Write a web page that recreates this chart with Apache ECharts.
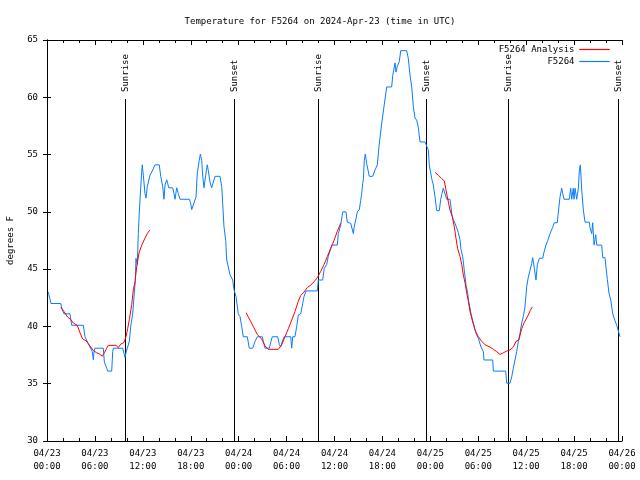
<!DOCTYPE html>
<html>
<head>
<meta charset="utf-8">
<script src="https://cdn.jsdelivr.net/npm/echarts@6/dist/echarts.min.js"></script>
<style>html,body{margin:0;padding:0;background:#fff}#c{width:640px;height:480px}</style>
</head>
<body>
<div id="c"></div>
<script>
// hours since 2024-04-23 00:00 UTC, temperature in degrees F
var obsHours = [0.16,0.5,1.72,1.88,2.13,2.88,3.09,4.55,4.76,5.17,5.38,5.67,5.80,5.89,6.01,7.05,7.18,7.48,7.60,8.10,8.23,8.30,9.48,9.64,9.77,9.89,10.06,10.31,10.48,10.73,10.93,11.06,11.14,11.31,11.43,11.56,11.73,11.86,11.93,12.06,12.27,12.40,12.56,12.90,13.24,13.52,14.06,14.24,14.49,14.65,14.78,14.99,15.11,15.24,15.74,15.90,16.03,16.24,16.44,16.65,17.82,17.99,18.12,18.32,18.66,18.82,19.07,19.20,19.37,19.50,19.66,19.87,20.07,20.20,20.41,20.62,20.82,21.04,21.66,21.88,22.00,22.16,22.38,22.50,22.70,22.92,23.25,23.42,23.67,23.95,24.17,24.38,24.58,25.08,25.33,25.76,26.05,26.33,26.96,27.09,27.30,27.84,28.05,28.21,28.89,29.09,29.26,29.51,29.71,30.52,30.64,30.77,31.05,31.27,31.47,31.77,32.02,32.18,32.43,33.85,33.97,34.52,34.72,35.02,35.22,35.65,36.35,36.48,36.78,37.03,37.44,37.60,38.03,38.36,38.44,38.69,38.86,39.11,39.28,39.41,39.53,39.61,39.73,39.86,40.03,40.36,40.78,41.07,41.36,41.57,41.91,42.20,42.54,43.16,43.29,43.58,43.70,43.86,44.11,44.29,45.04,45.24,45.46,45.67,45.87,46.08,46.29,46.49,46.71,47.33,47.75,47.87,48.17,48.37,48.59,48.80,49.12,49.30,49.46,49.62,49.84,50.05,50.46,50.55,50.71,50.88,51.09,51.30,51.50,51.72,51.84,52.05,52.25,52.47,52.68,52.81,53.10,53.38,53.72,54.01,54.35,54.64,54.72,55.81,55.89,57.44,57.56,57.98,58.19,58.39,58.60,58.81,59.02,59.23,59.44,59.64,59.85,60.07,60.27,60.48,60.69,60.82,61.02,61.23,61.40,61.65,62.07,62.24,62.48,62.70,62.99,63.32,63.52,63.90,64.03,64.24,64.45,64.58,64.74,65.40,65.58,65.70,65.90,65.99,66.12,66.33,66.53,66.65,66.78,66.96,67.16,67.37,67.91,68.00,68.21,68.33,68.50,68.71,68.84,69.46,69.59,69.87,70.00,70.17,70.37,70.59,70.84,71.12,71.34,71.54,71.75];
var obsTemps = [43.0,42.0,42.0,41.5,41.1,41.1,40.1,40.1,39.1,38.5,38.2,37.8,37.1,37.8,38.1,38.1,36.9,36.35,36.1,36.1,37.8,38.1,38.1,37.65,37.3,37.7,38.1,38.7,40.0,41.1,42.9,44.0,45.95,45.4,48.1,50.0,52.1,53.5,54.1,53.2,51.6,51.2,52.2,53.2,53.65,54.1,54.1,53.1,52.2,51.1,52.35,52.8,52.5,52.1,52.1,51.6,51.1,52.1,51.6,51.1,51.1,50.75,50.2,50.6,51.3,53.4,54.5,55.05,54.5,53.1,52.1,53.2,54.1,53.6,52.6,52.1,52.1,53.1,53.1,52.2,50.75,48.7,47.5,45.8,45.2,44.5,44.05,43.2,42.6,41.1,40.85,40.0,39.1,39.1,38.1,38.1,38.7,39.1,39.1,38.7,38.1,38.1,38.7,39.1,39.1,38.4,38.2,38.8,39.1,39.1,38.1,39.1,39.1,40.0,41.0,41.1,42.0,42.6,43.1,43.1,44.05,44.05,45.07,45.4,46.1,47.1,47.1,48.1,48.85,50.0,50.0,49.1,49.0,48.1,48.6,49.4,50.0,50.2,51.0,51.6,52.5,52.8,54.5,55.05,54.2,53.1,53.1,53.65,54.1,55.7,57.7,59.2,60.9,60.9,61.9,63.0,62.2,62.7,63.1,64.07,64.07,63.4,61.9,60.9,59.2,58.2,58.0,57.4,56.1,56.1,55.4,54.1,52.9,52.35,51.3,50.1,50.1,51.1,51.6,52.06,51.9,51.1,51.1,50.6,49.7,49.3,49.0,48.6,48.2,47.55,46.7,46.1,44.9,43.6,42.9,42.2,41.1,40.3,39.4,38.96,38.2,37.8,37.07,37.07,36.1,36.1,35.04,35.04,35.6,36.35,37.07,37.8,38.7,39.4,40.3,40.85,41.7,43.5,44.3,44.9,45.5,46.0,45.07,44.05,45.4,45.95,45.95,46.5,47.1,47.5,48.1,48.65,49.05,49.05,50.0,51.3,52.06,51.6,51.1,51.1,52.06,51.1,52.06,51.1,52.06,51.1,52.06,53.5,54.1,51.9,50.16,49.1,49.1,48.6,48.1,49.05,47.1,48.0,47.1,47.1,46.0,46.0,45.1,44.1,42.9,42.3,41.1,40.5,40.1,40.0,39.1];

var anaHours1 = [1.72,2.13,2.54,2.97,3.29,3.79,4.13,4.47,4.88,5.17,5.47,5.80,6.22,6.55,6.92,7.18,7.48,7.68,8.64,8.93,9.23,9.64,9.89,10.10,10.31,10.61,10.81,11.02,11.23,11.52,11.86,12.27,12.56,12.86];
var anaTemps1 = [41.7,41.3,40.85,40.6,40.3,40.1,39.45,38.9,38.75,38.5,38.2,37.9,37.7,37.6,37.4,37.7,38.1,38.35,38.35,38.15,38.45,38.6,39.1,39.8,40.6,41.9,43.2,43.9,45.2,46.4,47.1,47.7,48.1,48.4];
var anaHours2 = [24.92,25.42,25.83,26.33,26.88,27.30,27.71,28.96,29.39,29.80,30.22,30.64,31.05,31.47,31.77,32.18,32.60,33.02,33.43,33.85,34.27,34.69,35.10,35.52,35.94,36.35,36.78];
var anaTemps2 = [41.2,40.55,40.0,39.3,38.9,38.3,38.0,38.0,38.4,39.1,39.8,40.55,41.3,42.2,42.7,43.0,43.4,43.6,43.9,44.25,44.8,45.4,46.1,46.8,47.5,48.3,49.0];
var anaHours3 = [48.59,49.00,49.42,49.75,49.92,50.13,50.46,50.75,51.00,51.21,51.42,51.72,51.93,52.13,52.35,52.56,52.76,52.97,53.30,53.59,54.01,54.43,54.85,55.47,55.89,56.31,56.72,57.14,57.56,57.98,58.39,58.73,59.07,59.44,59.73,59.98,60.27,60.52,60.77];
var anaTemps3 = [53.45,53.2,52.9,52.7,52.06,51.3,50.16,49.6,48.7,47.7,46.8,46.1,45.4,44.5,43.8,42.9,42.2,41.3,40.4,39.7,39.1,38.7,38.4,38.2,38.0,37.8,37.55,37.7,37.85,37.95,38.2,38.7,38.8,39.8,40.3,40.4,41.0,41.4,41.7];

var sunHours = [9.77, 23.42, 33.93, 47.46, 57.73, 71.47];
var sunLabels = ['Sunrise','Sunset','Sunrise','Sunset','Sunrise','Sunset'];
var sunLineTop = 59.85;

var xTickLabels = ['04/23\n00:00','04/23\n06:00','04/23\n12:00','04/23\n18:00','04/24\n00:00','04/24\n06:00','04/24\n12:00','04/24\n18:00','04/25\n00:00','04/25\n06:00','04/25\n12:00','04/25\n18:00','04/26\n00:00'];

var titleText = 'Temperature for F5264 on 2024-Apr-23 (time in UTC)';
var yName = 'degrees F';

function zip(a, b) { return a.map(function (v, i) { return [v, b[i]]; }); }
var obsData = zip(obsHours, obsTemps);
var anaData = zip(anaHours1, anaTemps1).concat([[null, null]], zip(anaHours2, anaTemps2), [[null, null]], zip(anaHours3, anaTemps3));
var sunData = sunHours.map(function (h, i) { return [h, sunLabels[i]]; });

var FONT = 'DejaVu Sans Mono';
var chart = echarts.init(document.getElementById('c'), null, {renderer: 'canvas'});
var axisBase = {
  min: 0, max: 72, interval: 6,
  axisLine: {show: true, onZero: false, lineStyle: {color: '#000', width: 1}},
  splitLine: {show: false}
};
chart.setOption({
  animation: false,
  backgroundColor: '#fff',
  title: {
    text: titleText, left: 'center', top: 12,
    textStyle: {fontFamily: FONT, fontSize: 9, fontWeight: 'normal', color: '#000'}
  },
  legend: {
    orient: 'vertical', right: 25, top: 40, align: 'right',
    itemWidth: 30, itemHeight: 10, itemGap: 3,
    textStyle: {fontFamily: FONT, fontSize: 9, color: '#000'},
    data: [
      {name: 'F5264 Analysis', icon: 'path://M0,0L30,0L30,0.2L0,0.2Z', itemStyle: {color: '#ff0000', borderColor: '#ff0000', borderWidth: 1}},
      {name: 'F5264', icon: 'path://M0,0L30,0L30,0.2L0,0.2Z', itemStyle: {color: '#0a7cff', borderColor: '#0a7cff', borderWidth: 1}}
    ]
  },
  grid: {left: 47, right: 18, top: 40, bottom: 39, containLabel: false, outerBoundsMode: 'none'},
  xAxis: [
    Object.assign({}, axisBase, {
      type: 'value', position: 'bottom',
      axisTick: {show: true, inside: true, length: 5, lineStyle: {color: '#000'}},
      minorTick: {show: true, splitNumber: 3, length: 3, lineStyle: {color: '#000'}},
      axisLabel: {
        fontFamily: FONT, fontSize: 9, color: '#000', margin: 6, lineHeight: 13,
        formatter: function (v) { return xTickLabels[Math.round(v / 6)]; }
      }
    }),
    Object.assign({}, axisBase, {
      type: 'value', position: 'top',
      axisTick: {show: true, inside: true, length: 5, lineStyle: {color: '#000'}},
      minorTick: {show: true, splitNumber: 3, length: 3, lineStyle: {color: '#000'}},
      axisLabel: {show: false}
    })
  ],
  yAxis: [
    {
      type: 'value', min: 30, max: 65, interval: 5, position: 'left',
      name: yName, nameLocation: 'middle', nameGap: 32, nameRotate: 90,
      nameTextStyle: {fontFamily: FONT, fontSize: 9, color: '#000'},
      axisLine: {show: true, lineStyle: {color: '#000', width: 1}},
      axisTick: {show: true, inside: true, length: 4, lineStyle: {color: '#000'}},
      axisLabel: {fontFamily: FONT, fontSize: 9, color: '#000', margin: 9},
      splitLine: {show: false}
    },
    {
      type: 'value', min: 30, max: 65, interval: 5, position: 'right',
      axisLine: {show: true, lineStyle: {color: '#000', width: 1}},
      axisTick: {show: true, inside: true, length: 4, lineStyle: {color: '#000'}},
      axisLabel: {show: false},
      splitLine: {show: false}
    }
  ],
  series: [
    {
      type: 'custom', name: 'sun', xAxisIndex: 0, yAxisIndex: 0, silent: true, z: 1,
      data: sunData,
      renderItem: function (params, api) {
        var h = api.value(0);
        var lbl = sunLabels[params.dataIndex];
        var p0 = api.coord([h, 30]);
        var p1 = api.coord([h, sunLineTop]);
        return {
          type: 'group',
          children: [
            {type: 'line', shape: {x1: Math.round(p0[0]) + 0.5, y1: p0[1], x2: Math.round(p1[0]) + 0.5, y2: p1[1]},
             style: {stroke: '#000', lineWidth: 1}},
            {type: 'text', x: Math.round(p1[0]) + 1, y: p1[1] - 7, rotation: Math.PI / 2,
             style: {text: lbl, textAlign: 'left', textVerticalAlign: 'middle', fontFamily: FONT, fontSize: 9, fill: '#000'}}
          ]
        };
      }
    },
    {
      type: 'line', name: 'F5264', data: obsData, showSymbol: false, symbol: 'none',
      lineStyle: {color: '#0a7cff', width: 1}, itemStyle: {color: '#0a7cff'}, z: 2
    },
    {
      type: 'line', name: 'F5264 Analysis', data: anaData, showSymbol: false, symbol: 'none', connectNulls: false,
      lineStyle: {color: '#ff0000', width: 1}, itemStyle: {color: '#ff0000'}, z: 3
    }
  ]
});
</script>
</body>
</html>
